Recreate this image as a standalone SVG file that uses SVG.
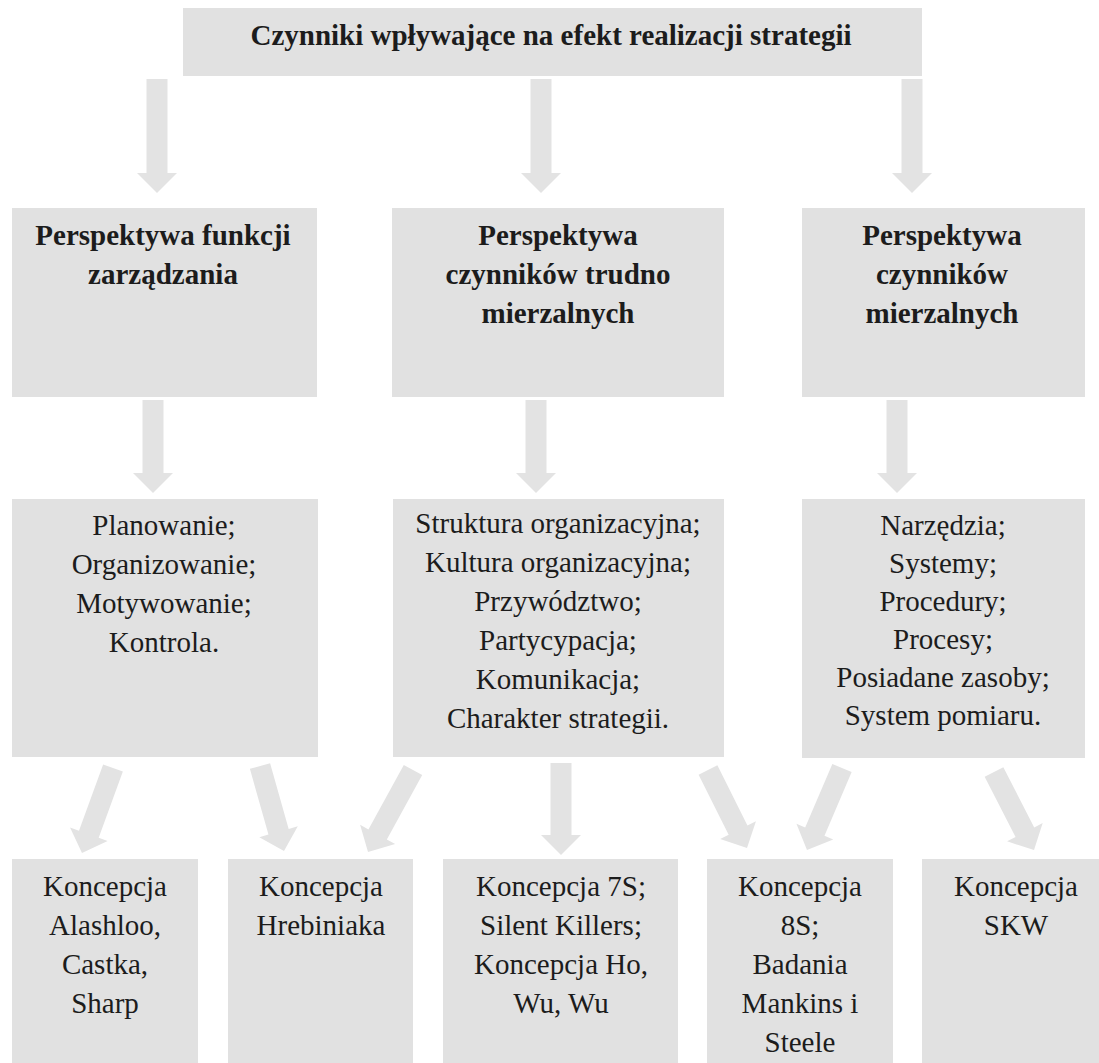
<svg xmlns="http://www.w3.org/2000/svg" width="1099" height="1063" viewBox="0 0 1099 1063" font-family="Liberation Serif, Times New Roman, Tinos, DejaVu Serif, serif">
  <style>
    .box { fill: #e1e1e1; }
    .arrow { fill: #e3e3e3; }
    text { font-size: 29px; fill: #1c1c1c; text-anchor: middle; }
    .b { font-weight: bold; }
  </style>
  <rect width="1099" height="1063" fill="#ffffff"/>

  <g id="connectors">
    <path class="arrow" d="M146.5,79 H167.5 V173 H177 L157,193 L137,173 H146.5 Z"/>
    <path class="arrow" d="M530.5,79 H551.5 V173 H561 L541,193 L521,173 H530.5 Z"/>
    <path class="arrow" d="M901.5,79 H922.5 V173 H932 L912,193 L892,173 H901.5 Z"/>
    <path class="arrow" d="M142.5,400 H163.5 V473 H173 L153,493 L133,473 H142.5 Z"/>
    <path class="arrow" d="M525.5,400 H546.5 V473 H556 L536,493 L516,473 H525.5 Z"/>
    <path class="arrow" d="M886.5,400 H907.5 V473 H917 L897,493 L877,473 H886.5 Z"/>
    <path class="arrow" transform="translate(113,768) rotate(20.04)" d="M-10.5,0 H10.5 V70.5 H20 L0,90.5 L-20,70.5 H-10.5 Z"/>
    <path class="arrow" transform="translate(260,766) rotate(-15.77)" d="M-10.5,0 H10.5 V68.3 H20 L0,88.3 L-20,68.3 H-10.5 Z"/>
    <path class="arrow" transform="translate(413,770) rotate(28.76)" d="M-10.5,0 H10.5 V73.5 H20 L0,93.5 L-20,73.5 H-10.5 Z"/>
    <path class="arrow" transform="translate(561,763)" d="M-10.5,0 H10.5 V72 H20 L0,92 L-20,72 H-10.5 Z"/>
    <path class="arrow" transform="translate(708,770) rotate(-26.57)" d="M-10.5,0 H10.5 V67.2 H20 L0,87.2 L-20,67.2 H-10.5 Z"/>
    <path class="arrow" transform="translate(842,768) rotate(23.11)" d="M-10.5,0 H10.5 V69.2 H20 L0,89.2 L-20,69.2 H-10.5 Z"/>
    <path class="arrow" transform="translate(994,772) rotate(-27.15)" d="M-10.5,0 H10.5 V67.7 H20 L0,87.7 L-20,67.7 H-10.5 Z"/>
  </g>

  <g id="root">
    <rect class="box" x="183" y="8" width="739" height="68"/>
    <text class="b" x="551" y="45">Czynniki wpływające na efekt realizacji strategii</text>
  </g>

  <g id="p1">
    <rect class="box" x="12" y="208" width="305" height="189"/>
    <text class="b" x="163" y="245">Perspektywa funkcji</text>
    <text class="b" x="163" y="284">zarządzania</text>
  </g>
  <g id="p2">
    <rect class="box" x="392" y="208" width="332" height="189"/>
    <text class="b" x="558" y="245">Perspektywa</text>
    <text class="b" x="558" y="284">czynników trudno</text>
    <text class="b" x="558" y="323">mierzalnych</text>
  </g>
  <g id="p3">
    <rect class="box" x="802" y="208" width="283" height="189"/>
    <text class="b" x="942" y="245">Perspektywa</text>
    <text class="b" x="942" y="284">czynników</text>
    <text class="b" x="942" y="323">mierzalnych</text>
  </g>

  <g id="s1">
    <rect class="box" x="12" y="499" width="306" height="258"/>
    <text x="164" y="535">Planowanie;</text>
    <text x="164" y="574">Organizowanie;</text>
    <text x="164" y="613">Motywowanie;</text>
    <text x="164" y="652">Kontrola.</text>
  </g>
  <g id="s2">
    <rect class="box" x="393" y="499" width="331" height="258"/>
    <text x="558" y="533">Struktura organizacyjna;</text>
    <text x="558" y="572">Kultura organizacyjna;</text>
    <text x="558" y="611">Przywództwo;</text>
    <text x="558" y="650">Partycypacja;</text>
    <text x="558" y="689">Komunikacja;</text>
    <text x="558" y="728">Charakter strategii.</text>
  </g>
  <g id="s3">
    <rect class="box" x="802" y="499" width="283" height="259"/>
    <text x="943" y="535">Narzędzia;</text>
    <text x="943" y="573">Systemy;</text>
    <text x="943" y="611">Procedury;</text>
    <text x="943" y="649">Procesy;</text>
    <text x="943" y="687">Posiadane zasoby;</text>
    <text x="943" y="725">System pomiaru.</text>
  </g>

  <g id="b1">
    <rect class="box" x="12" y="859" width="186" height="204"/>
    <text x="105" y="896">Koncepcja</text>
    <text x="105" y="935">Alashloo,</text>
    <text x="105" y="974">Castka,</text>
    <text x="105" y="1013">Sharp</text>
  </g>
  <g id="b2">
    <rect class="box" x="228" y="859" width="185" height="204"/>
    <text x="321" y="896">Koncepcja</text>
    <text x="321" y="935">Hrebiniaka</text>
  </g>
  <g id="b3">
    <rect class="box" x="443" y="859" width="235" height="204"/>
    <text x="561" y="896">Koncepcja 7S;</text>
    <text x="561" y="935">Silent Killers;</text>
    <text x="561" y="974">Koncepcja Ho,</text>
    <text x="561" y="1013">Wu, Wu</text>
  </g>
  <g id="b4">
    <rect class="box" x="707" y="859" width="186" height="204"/>
    <text x="800" y="896">Koncepcja</text>
    <text x="800" y="935">8S;</text>
    <text x="800" y="974">Badania</text>
    <text x="800" y="1013">Mankins i</text>
    <text x="800" y="1052">Steele</text>
  </g>
  <g id="b5">
    <rect class="box" x="922" y="859" width="177" height="204"/>
    <text x="1016" y="896">Koncepcja</text>
    <text x="1016" y="935">SKW</text>
  </g>
</svg>
